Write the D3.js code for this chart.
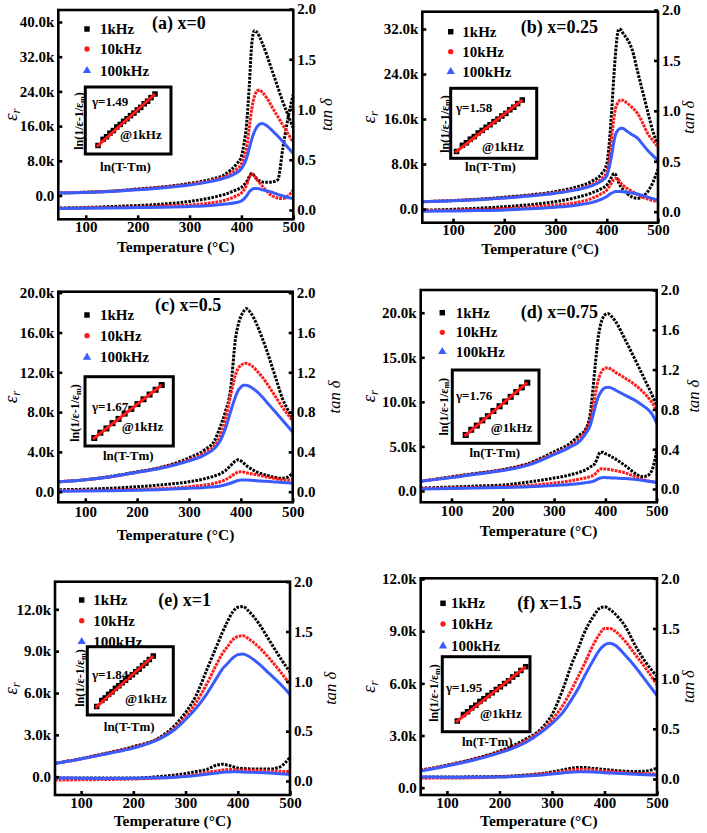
<!DOCTYPE html>
<html><head><meta charset="utf-8">
<script src="https://cdn.jsdelivr.net/npm/d3@7"></script>
<style>body{margin:0;background:#fff}</style>
</head><body>
<script>
// ---------------- DATA ----------------
const seriesNames = ["1kHz","10kHz","100kHz"];

// (a) x=0
const tempsA = [50,100,150,200,250,300,340,370,390,400,405,410,415,420,425,430,435,440,450,460,470,480,490,500];
const erA_1k   = [0.6,0.75,1.0,1.5,2.0,2.8,3.7,5.0,7.2,9.0,12.0,16.5,25.0,35.0,38.0,37.6,36.6,35.2,32.0,28.5,25.0,21.5,18.5,15.5];
const erA_10k  = [0.6,0.75,1.0,1.4,1.9,2.6,3.4,4.5,6.0,7.3,8.8,11.0,15.5,20.0,22.8,24.1,24.3,23.8,22.3,20.2,18.2,16.2,14.2,12.2];
const erA_100k = [0.55,0.7,0.95,1.3,1.8,2.4,3.2,4.1,5.2,6.2,7.2,8.6,10.8,13.0,14.7,15.8,16.4,16.6,16.0,14.9,13.7,12.4,11.0,9.7];
const tanA_1k  = [0.02,0.025,0.035,0.045,0.06,0.085,0.12,0.16,0.2,0.225,0.25,0.28,0.33,0.365,0.34,0.31,0.29,0.28,0.275,0.28,0.3,0.62,0.92,1.15];
const tanA_10k = [0.018,0.02,0.025,0.03,0.04,0.05,0.07,0.1,0.14,0.17,0.2,0.25,0.32,0.36,0.34,0.3,0.27,0.24,0.18,0.14,0.12,0.115,0.14,0.2];
const tanA_100k= [0.015,0.017,0.02,0.024,0.028,0.035,0.045,0.06,0.075,0.09,0.11,0.14,0.18,0.205,0.215,0.215,0.21,0.2,0.19,0.175,0.155,0.14,0.125,0.115];

// (b) x=0.25
const tempsB = [40,100,150,200,250,300,340,370,390,400,405,410,414,417,420,424,428,432,440,450,460,470,480,490,500];
const erB_1k   = [1.3,1.5,1.75,2.1,2.5,3.1,3.9,4.9,6.3,8.0,11.8,18.0,23.8,27.5,30.5,32.0,31.8,31.2,30.2,28.2,24.5,20.9,17.3,13.8,11.5];
const erB_10k  = [1.3,1.5,1.7,2.0,2.4,2.9,3.5,4.3,5.4,6.5,9.0,13.2,16.2,17.8,18.6,19.2,19.4,19.3,18.8,18.0,17.0,15.3,13.4,12.2,11.0];
const erB_100k = [1.3,1.45,1.65,1.95,2.3,2.8,3.4,4.1,5.0,5.9,7.5,9.8,12.0,13.2,13.8,14.2,14.35,14.3,13.8,13.2,12.6,11.5,10.4,9.5,8.6];
const tanB_1k  = [0.015,0.024,0.035,0.05,0.07,0.1,0.14,0.185,0.23,0.265,0.3,0.35,0.38,0.37,0.33,0.28,0.245,0.22,0.18,0.145,0.133,0.15,0.2,0.29,0.42];
const tanB_10k = [0.01,0.015,0.022,0.03,0.045,0.066,0.09,0.13,0.18,0.215,0.25,0.29,0.32,0.33,0.33,0.31,0.28,0.26,0.23,0.2,0.17,0.145,0.125,0.11,0.1];
const tanB_100k= [0.005,0.008,0.012,0.018,0.03,0.045,0.065,0.09,0.125,0.15,0.17,0.185,0.195,0.2,0.2,0.2,0.2,0.198,0.192,0.185,0.175,0.16,0.145,0.13,0.115];

// (c) x=0.5
const tempsC = [50,100,150,200,250,300,330,350,360,370,380,390,395,400,405,410,420,430,440,450,460,470,480,490,500];
const erC_1k   = [1.0,1.2,1.55,2.0,2.5,3.4,4.2,5.2,6.5,8.0,10.2,15.5,16.8,17.6,18.1,18.4,17.9,16.9,15.6,14.2,12.6,11.0,9.4,8.3,7.4];
const erC_10k  = [1.0,1.2,1.5,1.95,2.45,3.2,3.9,4.7,5.6,7.2,9.6,11.8,12.4,12.7,12.85,12.9,12.7,12.2,11.6,10.9,10.1,9.3,8.5,7.8,7.1];
const erC_100k = [1.0,1.2,1.5,1.95,2.4,3.1,3.7,4.4,5.1,6.3,8.0,9.6,10.2,10.5,10.7,10.7,10.5,10.1,9.6,9.0,8.4,7.8,7.2,6.6,6.0];
const tanC_1k  = [0.02,0.025,0.035,0.05,0.07,0.1,0.13,0.16,0.18,0.21,0.26,0.31,0.32,0.31,0.29,0.265,0.23,0.2,0.18,0.165,0.15,0.14,0.135,0.145,0.19];
const tanC_10k = [0.01,0.012,0.015,0.022,0.032,0.05,0.068,0.085,0.1,0.12,0.15,0.185,0.198,0.2,0.198,0.19,0.18,0.17,0.16,0.148,0.138,0.128,0.12,0.118,0.118];
const tanC_100k= [0.005,0.007,0.01,0.015,0.022,0.034,0.042,0.05,0.058,0.07,0.085,0.105,0.113,0.118,0.118,0.117,0.114,0.11,0.107,0.104,0.1,0.097,0.093,0.09,0.087];

// (d) x=0.75
const tempsD = [40,100,150,200,250,300,330,350,360,370,380,385,390,395,400,405,410,420,440,460,470,480,490,500];
const erD_1k   = [1.1,1.6,2.0,2.4,3.1,4.4,5.3,6.3,6.8,8.5,14.0,16.8,18.5,19.4,19.8,19.9,19.7,19.0,16.8,14.5,13.3,12.1,10.9,9.6];
const erD_10k  = [1.1,1.55,1.95,2.35,3.0,4.2,5.0,5.9,6.6,7.9,10.8,12.2,13.1,13.6,13.8,13.8,13.7,13.3,12.6,11.8,11.3,10.7,10.0,9.0];
const erD_100k = [1.1,1.5,1.9,2.3,2.9,4.1,4.9,5.6,6.3,7.3,9.4,10.4,11.0,11.4,11.6,11.65,11.6,11.3,10.7,10.1,9.7,9.3,8.7,7.6];
const tanD_1k  = [0.01,0.02,0.03,0.04,0.07,0.11,0.14,0.17,0.19,0.22,0.26,0.32,0.37,0.37,0.355,0.345,0.33,0.3,0.23,0.15,0.125,0.13,0.18,0.38];
const tanD_10k = [0.005,0.01,0.015,0.022,0.035,0.06,0.08,0.1,0.11,0.125,0.15,0.18,0.2,0.205,0.2,0.198,0.195,0.185,0.16,0.12,0.1,0.085,0.075,0.07];
const tanD_100k= [0.0,0.005,0.01,0.015,0.022,0.035,0.045,0.055,0.062,0.07,0.085,0.1,0.11,0.115,0.115,0.113,0.112,0.11,0.105,0.095,0.088,0.08,0.072,0.065];

// (e) x=1
const tempsE = [50,100,150,200,250,280,300,320,340,360,370,380,390,400,410,420,440,460,480,500];
const erE_1k   = [0.96,1.3,1.7,2.15,2.8,3.7,4.6,5.8,7.6,9.4,10.3,11.1,11.8,12.15,12.2,11.9,11.0,9.8,8.6,7.5];
const erE_10k  = [0.95,1.28,1.68,2.1,2.75,3.5,4.3,5.3,6.6,8.1,8.8,9.3,9.8,10.05,10.1,9.9,9.3,8.5,7.6,6.6];
const erE_100k = [0.95,1.27,1.65,2.05,2.7,3.4,4.1,4.9,5.9,7.1,7.7,8.1,8.5,8.75,8.8,8.65,8.1,7.4,6.7,5.9];
const tanE_1k  = [0.03,0.03,0.03,0.03,0.045,0.06,0.075,0.095,0.115,0.16,0.168,0.16,0.145,0.13,0.125,0.122,0.12,0.12,0.14,0.24];
const tanE_10k = [0.01,0.012,0.015,0.02,0.03,0.04,0.05,0.065,0.085,0.1,0.11,0.115,0.115,0.112,0.11,0.108,0.105,0.1,0.097,0.095];
const tanE_100k= [0.03,0.028,0.026,0.027,0.032,0.038,0.045,0.055,0.068,0.08,0.087,0.09,0.092,0.092,0.09,0.088,0.085,0.08,0.073,0.065];

// (f) x=1.5
const tempsF = [50,100,150,200,250,280,300,320,340,350,360,380,390,400,410,420,440,460,480,500];
const erF_1k   = [1.0,1.3,1.65,2.1,2.8,3.4,4.2,5.6,7.3,8.0,8.8,9.9,10.3,10.4,10.25,10.0,9.25,8.1,7.15,6.4];
const erF_10k  = [1.0,1.28,1.62,2.05,2.7,3.3,3.9,4.7,5.8,6.4,7.0,8.3,8.8,9.15,9.15,9.0,8.4,7.6,6.8,5.9];
const erF_100k = [0.95,1.25,1.58,2.0,2.6,3.2,3.7,4.3,5.2,5.7,6.3,7.4,7.9,8.2,8.3,8.2,7.6,6.9,6.1,5.3];
const tanF_1k  = [0.02,0.02,0.022,0.025,0.04,0.055,0.07,0.09,0.11,0.115,0.115,0.105,0.1,0.095,0.09,0.085,0.078,0.075,0.08,0.11];
const tanF_10k = [0.008,0.01,0.012,0.02,0.035,0.05,0.06,0.075,0.09,0.095,0.095,0.09,0.085,0.08,0.075,0.07,0.062,0.057,0.053,0.05];
const tanF_100k= [0.02,0.018,0.018,0.02,0.03,0.04,0.05,0.06,0.07,0.073,0.073,0.07,0.067,0.063,0.06,0.057,0.052,0.047,0.043,0.04];

// insets: ln(T-Tm) vs ln(1/e-1/em), normalised
const insetLnT_dense = [0,0.09,0.15,0.21,0.27,0.33,0.39,0.45,0.51,0.57,0.63,0.69,0.75,0.81,0.87,0.93,1.0];
const insetLnE_dense = [0,0.12,0.17,0.24,0.29,0.36,0.41,0.47,0.52,0.58,0.63,0.69,0.74,0.81,0.86,0.93,1.0];
const insetLnT_sparse = [0,0.09,0.18,0.27,0.36,0.45,0.55,0.64,0.73,0.82,0.91,1.0];
const insetLnE_sparse = [0,0.1,0.18,0.28,0.36,0.46,0.55,0.64,0.73,0.82,0.91,1.0];
const insetFitT = [-0.02,1.0];
const insetFitE = [-0.02,1.0];

const xTicks = [100,200,300,400,500];

// ---------------- LAYOUT ----------------
const COLORS = ["#000000","#ff1a1a","#3a5cff"];
const FONT = '"Liberation Serif","Times New Roman",Times,serif';

const panels = [
 {title:"(a) x=0", gamma:"γ=1.49", T:tempsA, er:[erA_1k,erA_10k,erA_100k], tan:[tanA_1k,tanA_10k,tanA_100k],
  box:[58.3,293.3,10,219.3], xDom:[47,500], yL:[0,40,195.5,22], yR:[0,2,210,9],
  yLTicks:[0,8,16,24,32,40], yRTicks:[0,0.5,1,1.5,2], xPad:2,
  leg:{mx:87,tx:100,ys:[29,49,70.7]}, titlePos:[152,28.7], xTitleY:252, erX:10, tanX:326,
  ins:{box:[85.3,87,171,154], p0:[98,145.5], p1:[155,94], sz:5.5, lt:insetLnT_dense, le:insetLnE_dense,
       g:[92,106], at:[120,138.5], yl:[79,121], xl:[125.5,171]}},
 {title:"(b) x=0.25", gamma:"γ=1.58", T:tempsB, er:[erB_1k,erB_10k,erB_100k], tan:[tanB_1k,tanB_10k,tanB_100k],
  box:[422.3,658,11.7,222.7], xDom:[40,500], yL:[0,32,209,29], yR:[0,2,211.7,10],
  yLTicks:[0,8,16,24,32], yRTicks:[0,0.5,1,1.5,2], xPad:2,
  leg:{mx:450.7,tx:462.3,ys:[31.7,51.7,71.7]}, titlePos:[520.7,32.7], xTitleY:254, erX:368, tanX:688,
  ins:{box:[450.7,88.3,536.7,158.3], p0:[456.5,151.5], p1:[522.3,100], sz:5.5, lt:insetLnT_dense, le:insetLnE_dense,
       g:[456,112], at:[482,150.5], yl:[444.5,124], xl:[490.5,171]}},
 {title:"(c) x=0.5", gamma:"γ=1.67", T:tempsC, er:[erC_1k,erC_10k,erC_100k], tan:[tanC_1k,tanC_10k,tanC_100k],
  box:[58.3,292.7,291.7,502.3], xDom:[48,500], yL:[0,20,491.7,292.7], yR:[0,2,491.7,292.7],
  yLTicks:[0,4,8,12,16,20], yRTicks:[0,0.4,0.8,1.2,1.6,2], xPad:4,
  leg:{mx:87,tx:100,ys:[315,335.7,357.3]}, titlePos:[155,311], xTitleY:539.5, erX:10, tanX:334,
  ins:{box:[85,376.7,173.3,446], p0:[94.3,438], p1:[161.7,385], sz:6, lt:insetLnT_sparse, le:insetLnE_sparse,
       g:[92,410.5], at:[121.7,431], yl:[75,413], xl:[128.3,459.5]}},
 {title:"(d) x=0.75", gamma:"γ=1.76", T:tempsD, er:[erD_1k,erD_10k,erD_100k], tan:[tanD_1k,tanD_10k,tanD_100k],
  box:[420.7,656.7,290,502.3], xDom:[40,500], yL:[0,20,491,312.7], yR:[0,2,489,290],
  yLTicks:[0,5,10,15,20], yRTicks:[0,0.4,0.8,1.2,1.6,2], xPad:3,
  leg:{mx:442.3,tx:455.7,ys:[312.7,332.3,351.7]}, titlePos:[520.7,317.7], xTitleY:536, erX:368, tanX:693,
  ins:{box:[452.3,370,539,443.3], p0:[465.7,435], p1:[527.3,382.7], sz:6, lt:insetLnT_sparse, le:insetLnE_sparse,
       g:[456,399.5], at:[490.7,431.8], yl:[443.3,406.7], xl:[494.8,457]}},
 {title:"(e) x=1", gamma:"γ=1.84", T:tempsE, er:[erE_1k,erE_10k,erE_100k], tan:[tanE_1k,tanE_10k,tanE_100k],
  box:[55,290,581.7,795], xDom:[50,500], yL:[0,12,776.7,609.3], yR:[0,2,781,581.7],
  yLTicks:[0,3,6,9,12], yRTicks:[0,0.5,1,1.5,2], xPad:2,
  leg:{mx:81.7,tx:93.3,ys:[600,620.7,641.7]}, titlePos:[158.3,606], xTitleY:826, erX:10, tanX:330,
  ins:{box:[87.3,646.7,173.3,715], p0:[96.7,706.5], p1:[153.3,656], sz:5.5, lt:insetLnT_dense, le:insetLnE_dense,
       g:[92,678.5], at:[125,702.8], yl:[80,678], xl:[129.2,730.5]}},
 {title:"(f) x=1.5", gamma:"γ=1.95", T:tempsF, er:[erF_1k,erF_10k,erF_100k], tan:[tanF_1k,tanF_10k,tanF_100k],
  box:[420.7,657,578.3,795], xDom:[50,500], yL:[0,12,787.7,579], yR:[0,2,779,578.3],
  yLTicks:[0,3,6,9,12], yRTicks:[0,0.5,1,1.5,2], xPad:2,
  leg:{mx:443,tx:451,ys:[603.3,624,646]}, titlePos:[517.3,609.3], xTitleY:826, erX:368, tanX:688,
  ins:{box:[442.3,656.7,530,731.7], p0:[457.3,721], p1:[525.7,666.7], sz:5.5, lt:insetLnT_dense, le:insetLnE_dense,
       g:[446,692], at:[480,717.8], yl:[434,693], xl:[487.3,746]}}
];

// ---------------- DRAW ----------------
const W=707, H=833;
const svg = d3.select("body").append("svg").attr("width",W).attr("height",H)
  .attr("font-family",FONT).attr("font-weight","bold");
svg.append("rect").attr("width",W).attr("height",H).attr("fill","#fff");
const defs = svg.append("defs");

function fmtL(d){ return d===0 ? "0.0" : d3.format(".1f")(d)+"k"; }

panels.forEach((p,pi)=>{
  const [x0,x1,y0,y1] = p.box;
  const g = svg.append("g");
  const x = d3.scaleLinear().domain(p.xDom).range([x0,x1]);
  const yL = d3.scaleLinear().domain([p.yL[0],p.yL[1]]).range([p.yL[2],p.yL[3]]);
  const yR = d3.scaleLinear().domain([p.yR[0],p.yR[1]]).range([p.yR[2],p.yR[3]]);

  const cid = "clip"+pi;
  defs.append("clipPath").attr("id",cid).append("rect")
    .attr("x",x0).attr("y",y0).attr("width",x1-x0).attr("height",y1-y0);
  const plot = g.append("g").attr("clip-path",`url(#${cid})`);

  const mk = (ys, sc) => d3.line().x((d,i)=>x(p.T[i])).y(d=>sc(d)).curve(d3.curveMonotoneX)(ys);
  const dash = ["2.6 1.3","2.8 1.0",null];
  [0,1,2].forEach(k=>{
    plot.append("path").attr("d",mk(p.tan[k],yR)).attr("fill","none")
      .attr("stroke",COLORS[k]).attr("stroke-width",3).attr("stroke-dasharray",dash[k]);
  });
  [0,1,2].forEach(k=>{
    plot.append("path").attr("d",mk(p.er[k],yL)).attr("fill","none")
      .attr("stroke",COLORS[k]).attr("stroke-width",3).attr("stroke-dasharray",dash[k]);
  });

  // axes
  const ax = g.append("g").attr("transform",`translate(0,${y1})`)
    .call(d3.axisBottom(x).tickValues(xTicks).tickSize(-4).tickPadding(p.xPad).tickFormat(d3.format("d")));
  const al = g.append("g").attr("transform",`translate(${x0},0)`)
    .call(d3.axisLeft(yL).tickValues(p.yLTicks).tickSize(-4).tickPadding(4).tickFormat(fmtL));
  const ar = g.append("g").attr("transform",`translate(${x1},0)`)
    .call(d3.axisRight(yR).tickValues(p.yRTicks).tickSize(-4).tickPadding(4).tickFormat(d3.format(".1f")));
  [ax,al,ar].forEach(a=>{
    a.select(".domain").remove();
    a.selectAll(".tick line").attr("stroke","#000").attr("stroke-width",2.6);
    a.selectAll("text").attr("font-family",FONT).attr("font-weight","bold").attr("font-size",15).attr("fill","#000");
  });

  // frame
  g.append("rect").attr("x",x0).attr("y",y0).attr("width",x1-x0).attr("height",y1-y0)
    .attr("fill","none").attr("stroke","#000").attr("stroke-width",2.6);

  // axis titles
  g.append("text").attr("x",(x0+x1)/2).attr("y",p.xTitleY).attr("text-anchor","middle")
    .attr("font-size",15.5).text("Temperature (°C)");
  const cy = (y0+y1)/2;
  const el = g.append("text").attr("transform",`translate(${p.erX},${cy}) rotate(-90)`)
    .attr("text-anchor","middle").attr("dy","0.35em").attr("font-size",19).attr("font-style","italic").attr("font-weight","normal");
  el.append("tspan").text("ε");
  el.append("tspan").attr("font-size",13).attr("dy","0.25em").text("r");
  g.append("text").attr("transform",`translate(${p.tanX},${cy}) rotate(-90)`)
    .attr("text-anchor","middle").attr("dy","0.35em").attr("font-size",16.5).attr("font-style","italic").attr("font-weight","normal")
    .text("tan δ");

  // title
  g.append("text").attr("x",p.titlePos[0]).attr("y",p.titlePos[1]).attr("font-size",18).text(p.title);

  // legend
  p.leg.ys.forEach((yy,k)=>{
    const sym = [d3.symbolSquare,d3.symbolCircle,d3.symbolTriangle][k];
    const size = [30,22,30][k];
    g.append("path").attr("d",d3.symbol(sym,size)()).attr("transform",`translate(${p.leg.mx},${yy})`).attr("fill",COLORS[k]);
    g.append("text").attr("x",p.leg.tx).attr("y",yy+5).attr("font-size",15).text(seriesNames[k]);
  });

  // inset
  const I = p.ins;
  const ig = g.append("g");
  ig.append("rect").attr("x",I.box[0]).attr("y",I.box[1]).attr("width",I.box[2]-I.box[0]).attr("height",I.box[3]-I.box[1])
    .attr("fill","#fff").attr("stroke","#000").attr("stroke-width",3);
  const ix = d3.scaleLinear().domain([0,1]).range([I.p0[0],I.p1[0]]);
  const iy = d3.scaleLinear().domain([0,1]).range([I.p0[1],I.p1[1]]);
  ig.selectAll(null).data(I.lt).enter().append("rect")
    .attr("x",(d)=>ix(d)-I.sz/2).attr("y",(d,i)=>iy(I.le[i])-I.sz/2)
    .attr("width",I.sz).attr("height",I.sz).attr("fill","#000");
  ig.append("path").attr("d",d3.line().x(d=>ix(d)).y((d,i)=>iy(insetFitE[i]))(insetFitT))
    .attr("stroke","#ff1a1a").attr("stroke-width",3).attr("fill","none");
  ig.append("text").attr("x",I.g[0]).attr("y",I.g[1]).attr("font-size",13).text(p.gamma);
  ig.append("text").attr("x",I.at[0]).attr("y",I.at[1]).attr("font-size",13).text("@1kHz");
  ig.append("text").attr("x",I.xl[0]).attr("y",I.xl[1]).attr("text-anchor","middle").attr("font-size",13).text("ln(T-Tm)");
  const yt = ig.append("text").attr("transform",`translate(${I.yl[0]},${I.yl[1]}) rotate(-90)`)
    .attr("text-anchor","middle").attr("dy","0.35em").attr("font-size",12);
  yt.append("tspan").text("ln(1/ε-1/ε");
  yt.append("tspan").attr("font-size",8).attr("dy","0.2em").text("m");
  yt.append("tspan").attr("dy","-0.15em").text(")");
});
</script>
</body></html>
